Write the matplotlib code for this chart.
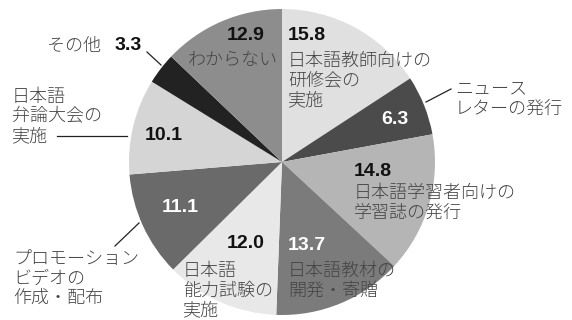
import matplotlib
matplotlib.use("Agg")
import matplotlib.pyplot as plt

# Data (clockwise from 12 o'clock)
values = [15.8, 6.3, 14.8, 13.7, 12.0, 11.1, 10.1, 3.3, 12.9]
value_labels = ["15.8", "6.3", "14.8", "13.7", "12.0", "11.1", "10.1", "3.3", "12.9"]
categories = [
    "日本語教師向けの\n研修会の\n実施",
    "ニュース\nレターの発行",
    "日本語学習者向けの\n学習誌の発行",
    "日本語教材の\n開発・寄贈",
    "日本語\n能力試験の\n実施",
    "プロモーション\nビデオの\n作成・配布",
    "日本語\n弁論大会の\n実施",
    "その他",
    "わからない",
]
colors = ["#e0e0e0", "#4b4b4b", "#b5b5b5", "#7b7b7b", "#e8e8e8",
          "#6a6a6a", "#d5d5d5", "#222222", "#8d8d8d"]

W, H = 572, 320
fig = plt.figure(figsize=(W / 100, H / 100), dpi=100)
ax = fig.add_axes([0, 0, 1, 1])

def Y(p):
    return H - p

cx, cy, r = 282, 162, 153
ax.pie(values, colors=colors, startangle=90, counterclock=False,
       center=(cx, Y(cy)), radius=r, wedgeprops=dict(linewidth=0))
ax.set_xlim(0, W)
ax.set_ylim(0, H)
ax.set_aspect("equal")
ax.axis("off")

jp = ["Noto Sans CJK JP", "DejaVu Sans"]
num_font = ["Liberation Sans", "DejaVu Sans"]
lab_col = "#444444"
fs_lab = 13
fs_num = 14
ls = 1.12

cat_pos = [(288, 80.5), (455, 98.5), (354, 203), (288, 281), (183, 291),
           (13, 278.5), (12, 116.5), (47, 46), (188, 60)]
num_pos = [(288, 35), (381, 120), (354, 172), (288, 245), (227, 244),
           (162, 207), (145, 136), (115, 45), (227, 36)]
num_cols = ["#111111", "white", "#111111", "white", "#111111",
            "white", "#111111", "#111111", "#111111"]

for cat, (x, y) in zip(categories, cat_pos):
    ax.text(x, Y(y), cat, ha="left", va="center", fontsize=fs_lab,
            family=jp, fontweight="light", color=lab_col, linespacing=ls)
for lab, (x, y), c in zip(value_labels, num_pos, num_cols):
    ax.text(x, Y(y), lab, ha="left", va="center", fontsize=fs_num,
            family=num_font, fontweight="bold", color=c)

# leader lines
leaders = [((147, 52), (161, 65)), ((426, 102), (451, 89)),
           ((57, 136), (127, 136)), ((139, 223), (115, 246))]
for (x0, y0), (x1, y1) in leaders:
    ax.plot([x0, x1], [Y(y0), Y(y1)], color="#222222", lw=0.9)

fig.savefig("out.png", dpi=100)
